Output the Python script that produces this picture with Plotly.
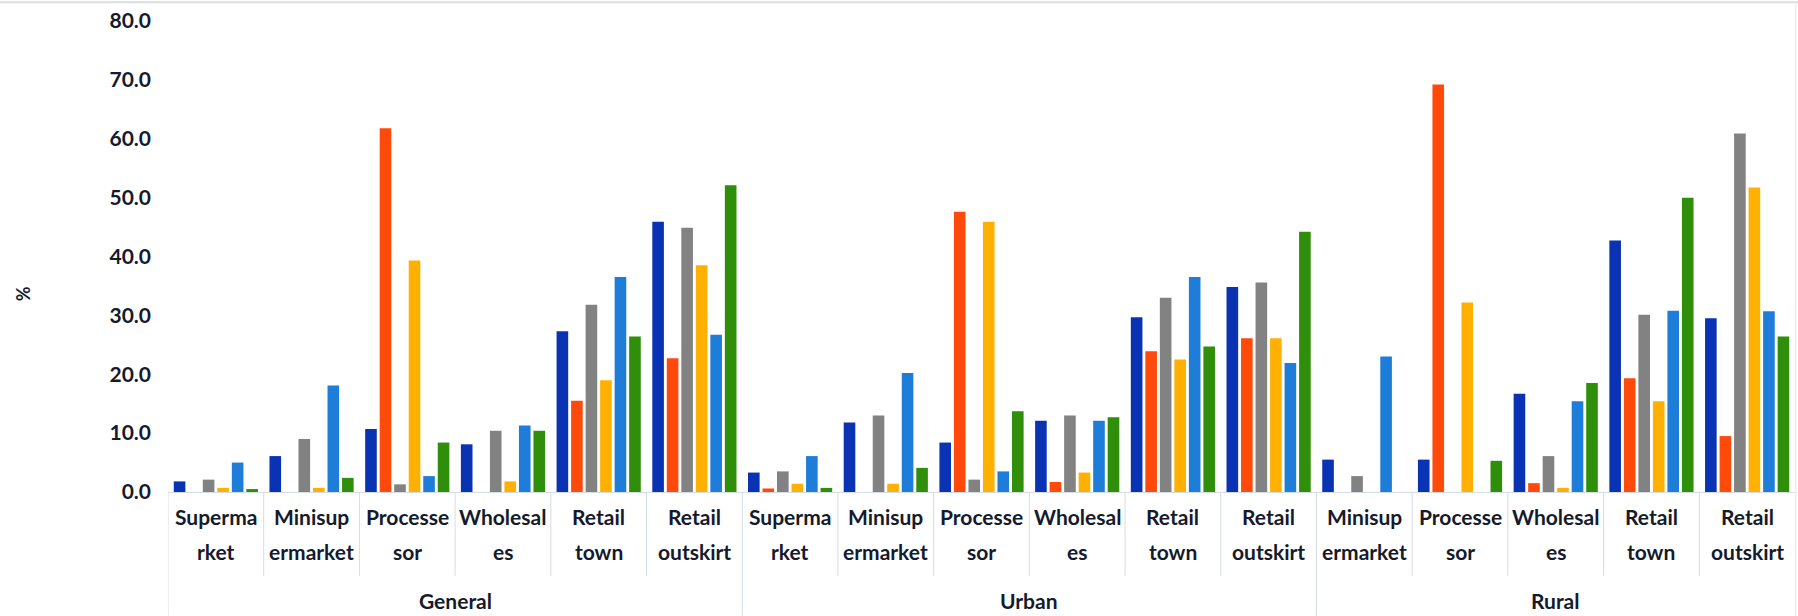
import plotly.graph_objects as go

# Area groups and the outlet types within each group
areas = ["General"] * 6 + ["Urban"] * 6 + ["Rural"] * 5
outlets = [
    "Superma<br>rket", "Minisup<br>ermarket", "Processe<br>sor", "Wholesal<br>es", "Retail<br>town", "Retail<br>outskirt",
    "Superma<br>rket", "Minisup<br>ermarket", "Processe<br>sor", "Wholesal<br>es", "Retail<br>town", "Retail<br>outskirt",
    "Minisup<br>ermarket", "Processe<br>sor", "Wholesal<br>es", "Retail<br>town", "Retail<br>outskirt",
]

# Percentages per series (six series per outlet)
series_1 = [1.8, 6.1, 10.7, 8.1, 27.3, 45.9, 3.3, 11.8, 8.4, 12.1, 29.7, 34.8, 5.5, 5.5, 16.7, 42.7, 29.5]
series_2 = [0.0, 0.0, 61.8, 0.0, 15.5, 22.7, 0.6, 0.0, 47.6, 1.7, 23.9, 26.1, 0.0, 69.2, 1.5, 19.3, 9.5]
series_3 = [2.1, 9.0, 1.3, 10.4, 31.8, 44.9, 3.5, 13.0, 2.1, 13.0, 33.0, 35.6, 2.7, 0.0, 6.1, 30.1, 60.9]
series_4 = [0.7, 0.7, 39.3, 1.8, 19.0, 38.5, 1.4, 1.4, 45.9, 3.3, 22.5, 26.1, 0.0, 32.2, 0.7, 15.4, 51.7]
series_5 = [5.0, 18.1, 2.7, 11.3, 36.5, 26.7, 6.1, 20.2, 3.5, 12.1, 36.5, 21.9, 23.0, 0.0, 15.4, 30.8, 30.7]
series_6 = [0.5, 2.4, 8.4, 10.4, 26.4, 52.1, 0.7, 4.1, 13.7, 12.7, 24.7, 44.2, 0.0, 5.3, 18.5, 50.0, 26.4]

y_ticks = [0, 10, 20, 30, 40, 50, 60, 70, 80]

all_series = [series_1, series_2, series_3, series_4, series_5, series_6]
colors = ["#0A33B4", "#FF4A0C", "#828282", "#FFB000", "#1E7DD8", "#2F8E0A"]

text_color = "#151A2C"
divider_color = "#D6DCE4"
font_family = "Lato, 'Open Sans', sans-serif"
label_font = dict(family=font_family, size=21, color=text_color, weight="bold")

# One unique category per (area, outlet) pair
keys = [f"{a}|{o}" for a, o in zip(areas, outlets)]

fig = go.Figure()
for vals, col in zip(all_series, colors):
    fig.add_trace(go.Bar(
        x=keys,
        y=vals,
        marker=dict(color=col, line=dict(width=0)),
        showlegend=False,
    ))

fig.update_layout(
    width=1798,
    height=616,
    margin=dict(l=168, r=3, t=21, b=124),
    paper_bgcolor="white",
    plot_bgcolor="white",
    barmode="group",
    bargap=0.09,
    bargroupgap=0.2,
    font=dict(family=font_family, size=21, color=text_color),
)

fig.update_xaxes(
    type="category",
    range=[-0.5, len(keys) - 0.5],
    showticklabels=False,
    showline=True,
    linecolor=divider_color,
    linewidth=1,
    showgrid=False,
    zeroline=False,
    ticks="",
)

fig.update_yaxes(
    range=[0, 80],
    tickvals=y_ticks,
    tickformat=".1f",
    showgrid=False,
    zeroline=False,
    showline=False,
    ticklabelstandoff=16,
    tickfont=label_font,
)

# Two-line outlet labels under each cluster
for key, name in zip(keys, outlets):
    for line_text, ypos in zip(name.split("<br>"), (-0.051, -0.127)):
        fig.add_annotation(
            text=line_text, x=key, xref="x", y=ypos, yref="paper",
            showarrow=False, xanchor="center", yanchor="middle",
            font=label_font,
        )

# Area labels centred under their clusters, with dividers
group_names = list(dict.fromkeys(areas))
start = 0
for g in group_names:
    n = areas.count(g)
    fig.add_annotation(
        text=g, x=start + (n - 1) / 2, xref="x", y=-0.231, yref="paper",
        showarrow=False, xanchor="center", yanchor="middle",
        font=label_font,
    )
    # full-height divider at the start of the area
    fig.add_shape(type="line", xref="x", yref="paper",
                  x0=start - 0.5, x1=start - 0.5, y0=0, y1=-0.263,
                  line=dict(color=divider_color, width=1))
    # short dividers between outlets within the area
    for i in range(1, n):
        fig.add_shape(type="line", xref="x", yref="paper",
                      x0=start + i - 0.5, x1=start + i - 0.5, y0=0, y1=-0.178,
                      line=dict(color=divider_color, width=1))
    start += n

# Axis label for the value scale
fig.add_annotation(
    text="%",
    xref="paper", yref="paper",
    x=-0.097, y=0.42,
    showarrow=False,
    textangle=-90,
    font=dict(family=font_family, size=18, color=text_color, weight="bold"),
)

# Thin frame lines along the top and right edges
fig.add_shape(type="line", xref="paper", yref="paper",
              x0=-0.104, x1=1.002, y0=1.04, y1=1.04,
              line=dict(color="#DADDE2", width=2))
fig.add_shape(type="line", xref="paper", yref="paper",
              x0=1.0005, x1=1.0005, y0=1.04, y1=-0.263,
              line=dict(color="#E4E6EA", width=1))

fig.write_html("out.html")
